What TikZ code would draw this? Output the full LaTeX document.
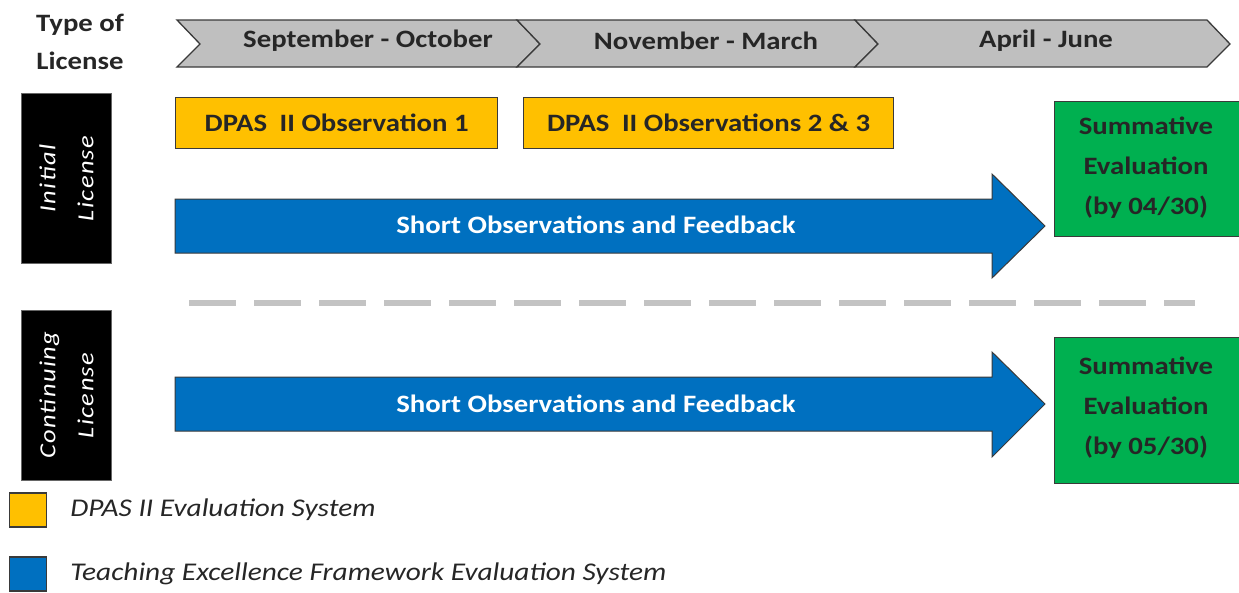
\documentclass[tikz,border=0pt]{standalone}
\usepackage{fontspec}
\setmainfont{Carlito}[FakeStretch=1.15]
\usetikzlibrary{positioning}
\definecolor{bannergray}{HTML}{BFBFBF}
\definecolor{edgegray}{HTML}{3A3A3A}
\definecolor{dpasyellow}{HTML}{FFC000}
\definecolor{tefblue}{HTML}{0070C0}
\definecolor{sumgreen}{HTML}{00B050}
\definecolor{dashgray}{HTML}{C3C3C3}

\begin{document}
\begin{tikzpicture}[
    x=1pt, y=-1pt,
    bannerlbl/.style={
        font=\fontsize{25}{28}\selectfont\bfseries, text=black!85
    },
    obsbox/.style={
        draw=edgegray, line width=1.3pt, fill=dpasyellow, anchor=north west,
        minimum height=51pt, inner sep=0pt,
        font=\fontsize{25}{28}\selectfont\bfseries, text=black!85
    },
    licbox/.style={
        draw=black!60, line width=0.8pt, fill=black, anchor=north west,
        minimum width=90pt, minimum height=170pt, inner sep=0pt
    },
    liclbl/.style={
        rotate=90, align=center, text=white,
        font=\fontsize{23}{38}\selectfont\itshape\addfontfeature{LetterSpace=6}
    },
    sumbox/.style={
        draw=edgegray, line width=1.3pt, fill=sumgreen, anchor=north west,
        minimum width=191pt, inner sep=0pt
    },
    sumlbl/.style={
        align=center, font=\fontsize{25}{40}\selectfont\bfseries, text=black!85
    },
    tefarrow/.style={
        draw=edgegray, line width=1pt, fill=tefblue
    },
    teflbl/.style={
        font=\fontsize{25}{28}\selectfont\bfseries, text=white
    },
    legsq/.style={
        draw=edgegray, line width=1.3pt, minimum width=37pt, minimum height=34pt,
        inner sep=0pt
    },
    legtxt/.style={
        font=\fontsize{25.5}{28}\selectfont\itshape, text=black!85, inner sep=0pt
    }
]

% Page frame, in image pixels
\useasboundingbox (0,0) rectangle (1239,592);

% Column header
\node[font=\fontsize{25}{38}\selectfont\bfseries, align=center, text=black!85] (typelbl) at (80,42) {Type of\\License};

% Month banner: three chevrons, notch depth 23
\filldraw[fill=bannergray, draw=edgegray, line width=1.3pt]
    (177,20) -- (517,20) -- (540,44) -- (517,67) -- (177,67) -- (200,44) -- cycle;
\filldraw[fill=bannergray, draw=edgegray, line width=1.3pt]
    (517,20) -- (855,20) -- (878,44) -- (855,67) -- (517,67) -- (540,44) -- cycle;
\filldraw[fill=bannergray, draw=edgegray, line width=1.3pt]
    (855,20) -- (1207,20) -- (1230,44) -- (1207,67) -- (855,67) -- (878,44) -- cycle;
\node[bannerlbl] (sepoct) at (368,41) {September - October};
\node[bannerlbl] (novmar) at (706,41) {November - March};
\node[bannerlbl] (aprjun) at (1046,41) {April - June};

% -- Initial license row --
\node[licbox] (initbox) at (21,93) {};
\node[liclbl] (initlbl) at (initbox.center) {Initial\\License};

\node[obsbox, minimum width=322pt] (obsone) at (175,97) {DPAS\enspace II Observation 1};
\node[obsbox, minimum width=370pt] (obstwo) at (523,97) {DPAS\enspace II Observations 2 \& 3};

\filldraw[tefarrow]
    (175,199) -- (992,199) -- (992,174) -- (1045,226) -- (992,278) -- (992,253) -- (175,253) -- cycle;
\node[teflbl] (shortone) at (596,225) {Short Observations and Feedback};

\node[sumbox, minimum height=135pt] (sumone) at (1054,101) {};
\node[sumlbl] (sumonelbl) at (1146,168) {Summative\\Evaluation\\(by 04/30)};

% Separator
\draw[dashgray, line width=6pt, dash pattern=on 47pt off 18pt] (189,303) -- (1195,303);

% -- Continuing license row --
\node[licbox] (contbox) at (21,310) {};
\node[liclbl] (contlbl) at (contbox.center) {Continuing\\License};

\filldraw[tefarrow]
    (175,377) -- (992,377) -- (992,352) -- (1045,404) -- (992,457) -- (992,431) -- (175,431) -- cycle;
\node[teflbl] (shorttwo) at (596,404) {Short Observations and Feedback};

\node[sumbox, minimum height=146pt] (sumtwo) at (1054,337) {};
\node[sumlbl] (sumtwolbl) at (1146,408) {Summative\\Evaluation\\(by 05/30)};

% Legend
\node[legsq, fill=dpasyellow] (legdpas) at (28,510) {};
\node[legtxt, anchor=west, right=23pt of legdpas] (legdpastxt) {DPAS II Evaluation System};
\node[legsq, fill=tefblue] (legtef) at (28,574) {};
\node[legtxt, anchor=west, right=23pt of legtef] (legteftxt) {Teaching Excellence Framework Evaluation System};

\end{tikzpicture}
\end{document}
